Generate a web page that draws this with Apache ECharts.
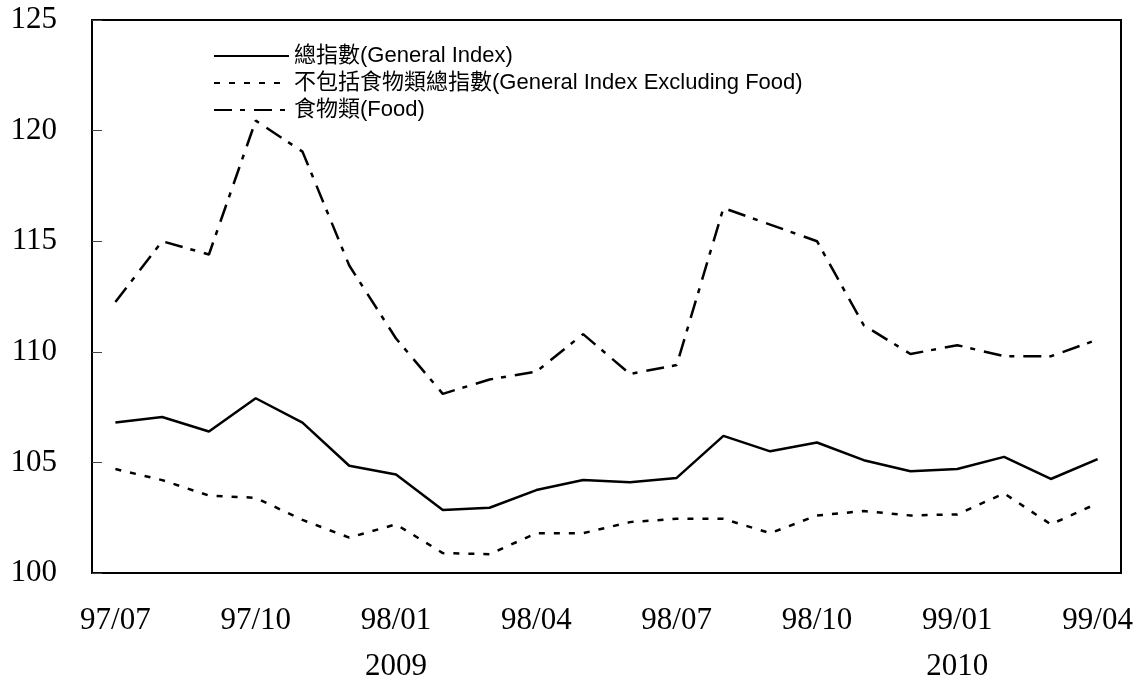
<!DOCTYPE html>
<html>
<head>
<meta charset="utf-8">
<script src="https://cdn.jsdelivr.net/npm/echarts@6/dist/echarts.min.js"></script>
<style>
  html, body { margin: 0; padding: 0; background: #fff; }
  #chart { width: 1135px; height: 683px; }
</style>
</head>
<body>
<div id="chart"></div>
<script>
// months 97/07 .. 99/04
var months = ["97/07", "97/08", "97/09", "97/10", "97/11", "97/12",
  "98/01", "98/02", "98/03", "98/04", "98/05", "98/06",
  "98/07", "98/08", "98/09", "98/10", "98/11", "98/12",
  "99/01", "99/02", "99/03", "99/04"];
var yearNotes = { "98/01": "2009", "99/01": "2010" };

var generalIndex = [106.8, 107.05, 106.4, 107.9, 106.8, 104.85, 104.45, 102.85, 102.95, 103.75, 104.2,
  104.1, 104.3, 106.2, 105.5, 105.9, 105.1, 104.6, 104.7, 105.25, 104.25, 105.15];
var exclFood = [104.7, 104.2, 103.5, 103.4, 102.4, 101.6, 102.2, 100.9, 100.85, 101.8, 101.8,
  102.3, 102.45, 102.45, 101.8, 102.6, 102.8, 102.6, 102.65, 103.6, 102.2, 103.15];
var food = [112.25, 115.0, 114.4, 120.45, 119.05, 113.9, 110.6, 108.1, 108.75, 109.1, 110.8,
  109.0, 109.4, 116.5, 115.75, 115.0, 111.2, 109.9, 110.3, 109.8, 109.8, 110.55];

var names = ["總指數(General Index)", "不包括食物類總指數(General Index Excluding Food)", "食物類(Food)"];

var chart = echarts.init(document.getElementById("chart"));
var serif = "'Liberation Serif', 'DejaVu Serif', serif";

chart.setOption({
  animation: false,
  backgroundColor: "#fff",
  grid: {
    left: 92, right: 14, top: 20, bottom: 110,
    outerBoundsMode: "none",
    show: true, borderColor: "#000", borderWidth: 2
  },
  legend: {
    orient: "vertical",
    left: 213, top: 45,
    padding: 0,
    itemWidth: 75, itemHeight: 22, itemGap: 5,
    itemStyle: { opacity: 0 },
    textStyle: { fontSize: 22, lineHeight: 22, color: "#000", fontFamily: "'Liberation Sans', 'Noto Sans CJK TC', sans-serif" },
    data: names
  },
  xAxis: {
    type: "category",
    data: months,
    boundaryGap: true,
    axisLine: { lineStyle: { color: "#000", width: 2 } },
    axisTick: { inside: true, length: 10, lineStyle: { color: "#444", width: 1 }, interval: 0 },
    axisLabel: {
      interval: 2, margin: 25, fontSize: 31, color: "#000", fontFamily: serif, lineHeight: 46,
      formatter: function (v) { return yearNotes[v] ? v + "\n" + yearNotes[v] : v; }
    }
  },
  yAxis: {
    type: "value",
    min: 100, max: 125, interval: 5,
    splitLine: { show: false },
    axisLine: { show: true, lineStyle: { color: "#000", width: 2 } },
    axisTick: { show: true, inside: true, length: 10, lineStyle: { color: "#444", width: 1 } },
    axisLabel: { margin: 35, fontSize: 31, color: "#000", fontFamily: serif }
  },
  series: [
    {
      name: names[0], type: "line", data: generalIndex, showSymbol: false, symbol: "none",
      lineStyle: { color: "#000", width: 2.5, type: "solid" }, itemStyle: { color: "#000" }
    },
    {
      name: names[1], type: "line", data: exclFood, showSymbol: false, symbol: "none",
      lineStyle: { color: "#000", width: 2.5, type: [6, 9] }, itemStyle: { color: "#000" }
    },
    {
      name: names[2], type: "line", data: food, showSymbol: false, symbol: "none",
      lineStyle: { color: "#000", width: 2.5, type: [18, 8, 5, 9] }, itemStyle: { color: "#000" }
    }
  ]
});
</script>
</body>
</html>
